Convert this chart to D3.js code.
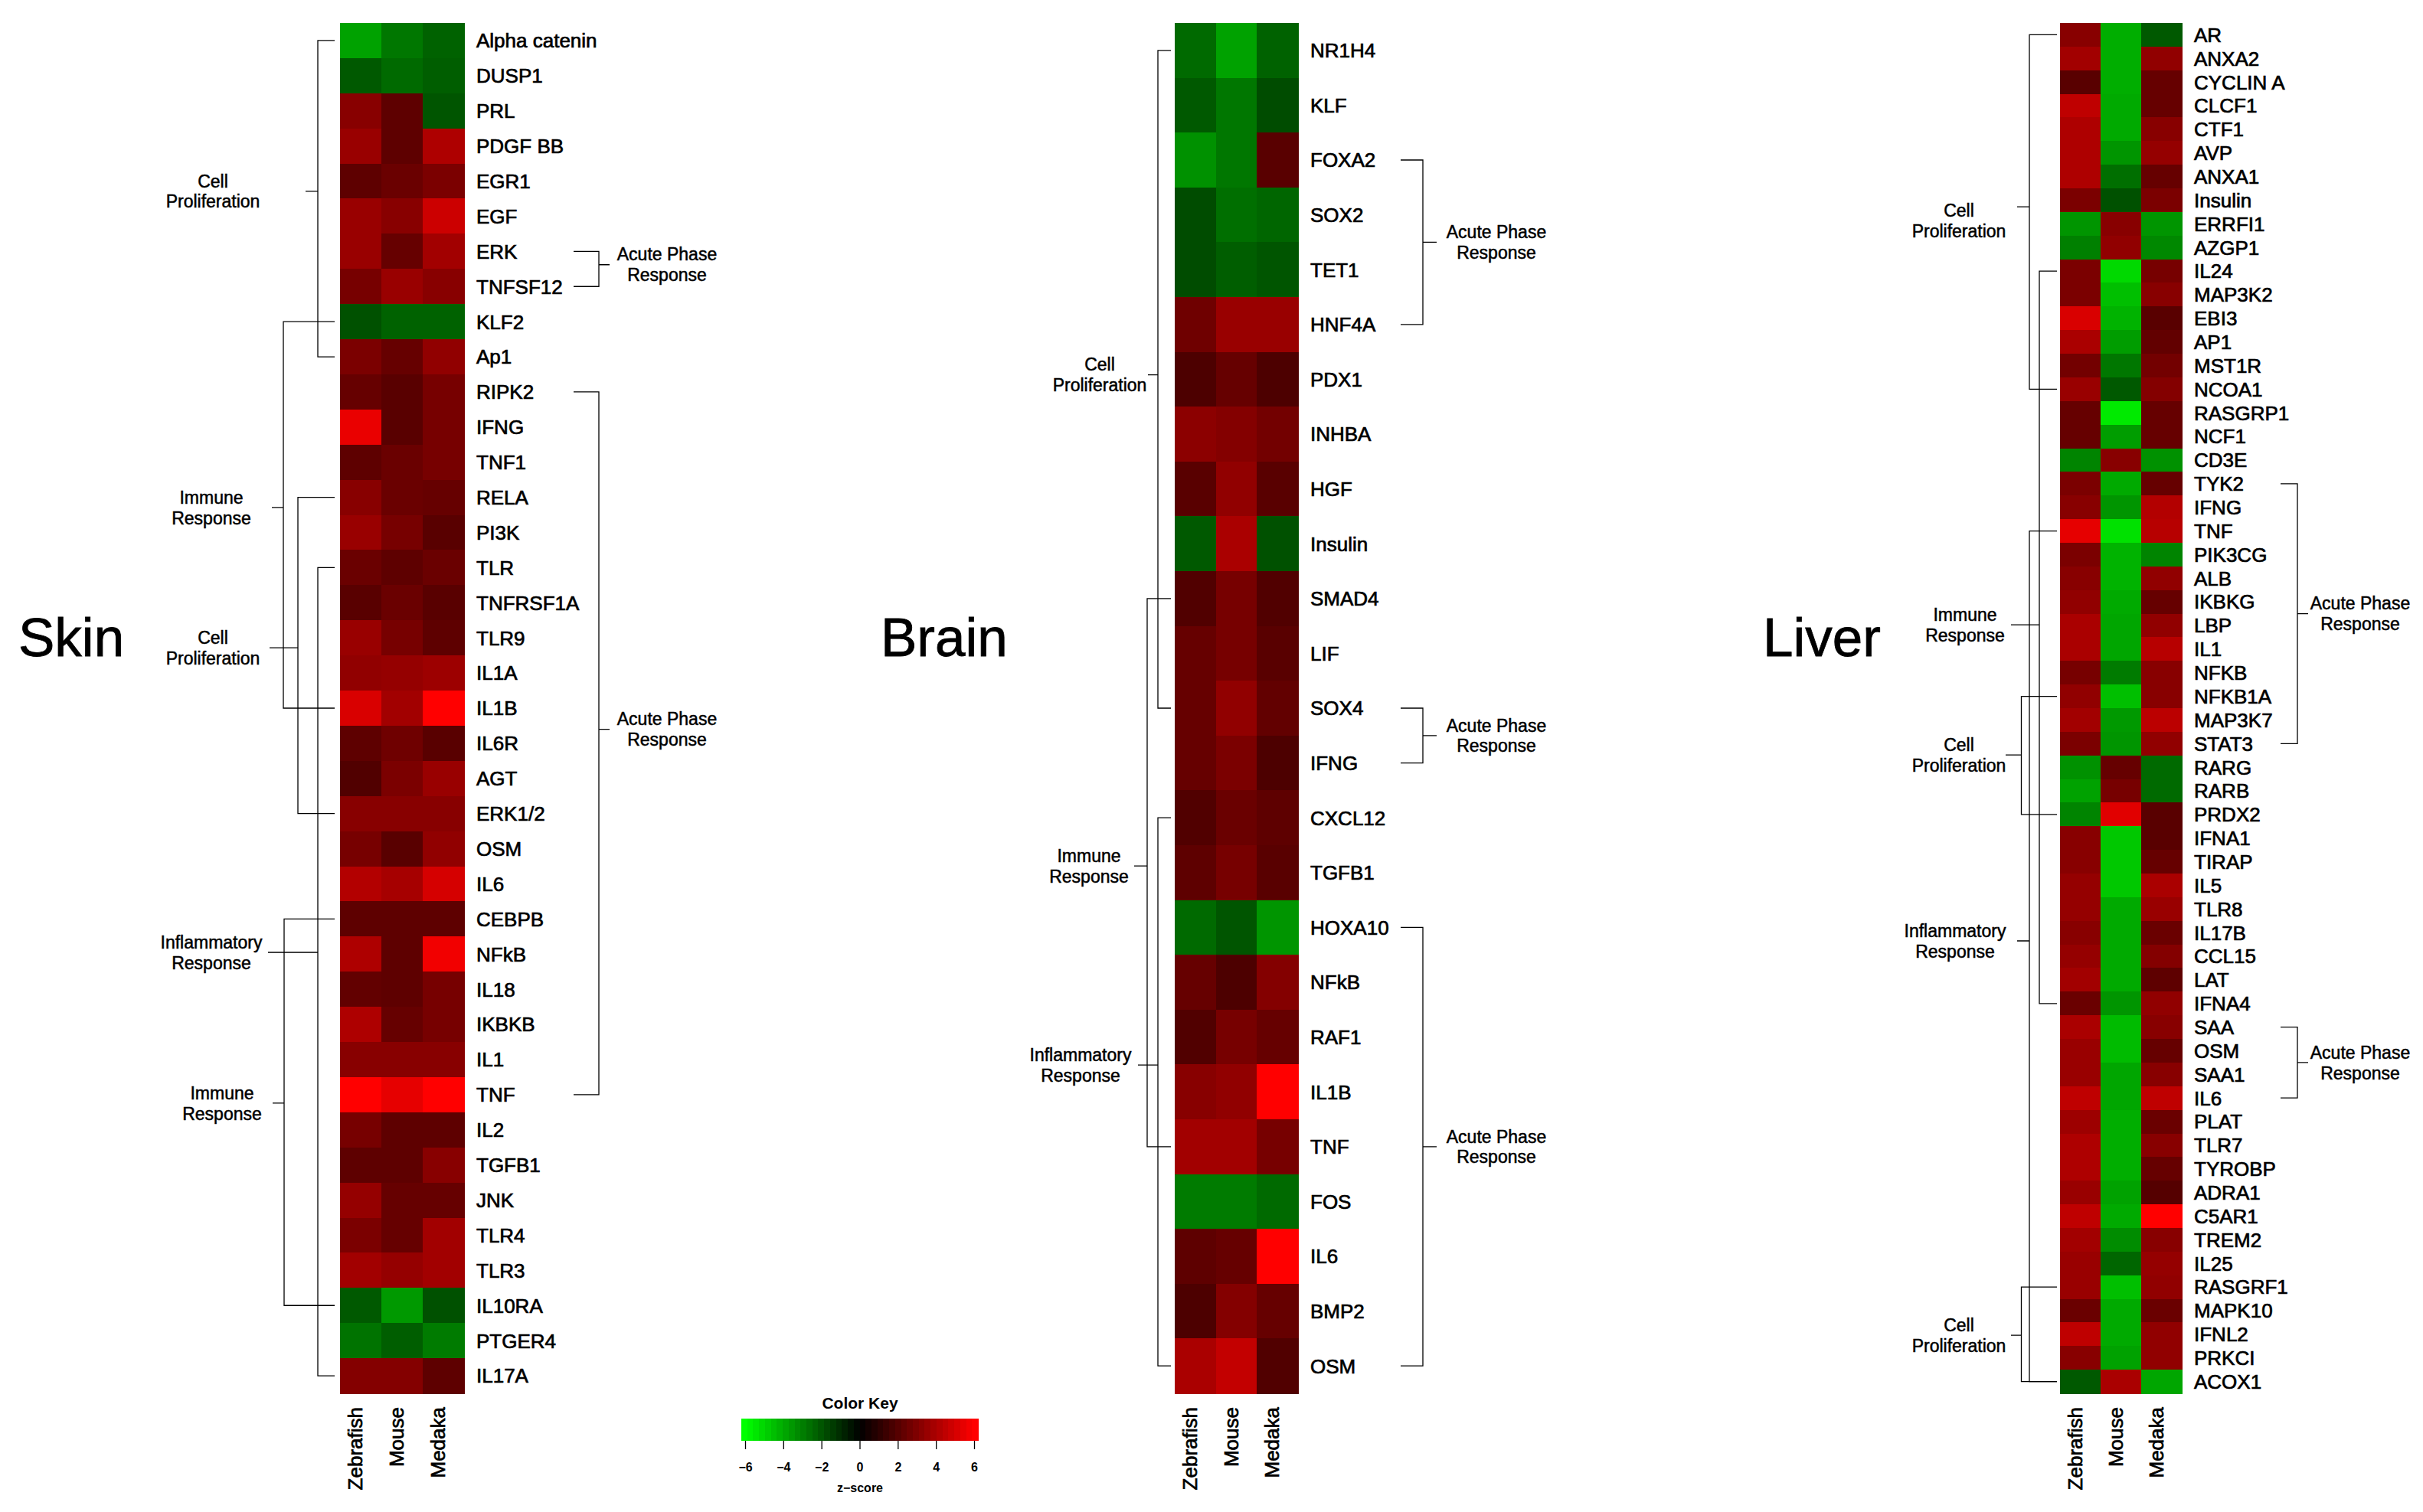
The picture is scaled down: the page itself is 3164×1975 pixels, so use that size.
<!DOCTYPE html>
<html>
<head>
<meta charset="utf-8">
<script src="https://cdn.jsdelivr.net/npm/d3@7"></script>
<style>
  body { margin: 0; background: #fff; }
  text { font-family: "Liberation Sans", Arial, Helvetica, sans-serif; fill: #000; }
</style>
</head>
<body>
<script>
//species (columns)
var species = ["Zebrafish", "Mouse", "Medaka"];

//skin genes and z-scores [Zebrafish, Mouse, Medaka]
var skinGenes = ["Alpha catenin", "DUSP1", "PRL", "PDGF BB", "EGR1", "EGF", "ERK", "TNFSF12", "KLF2", "Ap1",
  "RIPK2", "IFNG", "TNF1", "RELA", "PI3K", "TLR", "TNFRSF1A", "TLR9", "IL1A", "IL1B",
  "IL6R", "AGT", "ERK1/2", "OSM", "IL6", "CEBPB", "NFkB", "IL18", "IKBKB", "IL1",
  "TNF", "IL2", "TGFB1", "JNK", "TLR4", "TLR3", "IL10RA", "PTGER4", "IL17A"];
var skinValues = [
  [-3.8, -2.8, -2.3], [-2.1, -2.5, -2.2], [3.2, 2.2, -2.0], [3.6, 2.2, 4.1], [2.2, 2.5, 2.9],
  [3.6, 3.2, 4.8], [3.6, 2.4, 3.8], [2.8, 3.6, 3.2], [-1.9, -2.3, -2.3], [2.9, 2.4, 3.4],
  [2.4, 2.1, 2.8], [5.5, 2.1, 2.8], [2.2, 2.5, 2.8], [3.2, 2.5, 2.4], [3.6, 2.8, 2.1],
  [2.5, 2.2, 2.5], [2.1, 2.5, 2.1], [3.6, 2.8, 2.2], [3.4, 3.5, 3.7], [5.1, 3.8, 6.0],
  [2.2, 2.6, 2.1], [1.9, 2.9, 3.6], [3.2, 3.2, 3.2], [2.8, 2.1, 3.4], [4.2, 3.9, 5.0],
  [2.2, 2.2, 2.2], [4.1, 2.2, 5.7], [2.3, 2.2, 2.8], [4.1, 2.4, 2.8], [3.2, 3.2, 3.2],
  [6.0, 5.4, 6.0], [2.8, 2.2, 2.2], [2.2, 2.2, 3.2], [3.5, 2.4, 2.4], [2.9, 2.4, 3.8],
  [3.8, 3.5, 3.8], [-2.1, -3.6, -1.9], [-2.7, -2.2, -2.9], [3.1, 3.1, 2.2]
];

//brain genes and z-scores
var brainGenes = ["NR1H4", "KLF", "FOXA2", "SOX2", "TET1", "HNF4A", "PDX1", "INHBA", "HGF", "Insulin",
  "SMAD4", "LIF", "SOX4", "IFNG", "CXCL12", "TGFB1", "HOXA10", "NFkB", "RAF1", "IL1B",
  "TNF", "FOS", "IL6", "BMP2", "OSM"];
var brainValues = [
  [-2.5, -3.8, -2.3], [-2.1, -2.8, -1.8], [-3.4, -2.8, 2.1], [-1.8, -2.6, -2.4], [-1.8, -2.2, -2.0],
  [2.6, 3.6, 3.6], [1.8, 2.4, 1.8], [3.3, 3.1, 2.7], [2.1, 3.4, 2.1], [-2.1, 4.0, -1.9],
  [1.9, 2.8, 1.9], [2.4, 2.8, 2.1], [2.4, 3.4, 2.3], [2.4, 2.9, 1.8], [1.9, 2.5, 2.2],
  [2.2, 2.8, 2.1], [-2.5, -2.0, -3.5], [2.4, 1.8, 3.1], [1.9, 2.8, 2.4], [3.2, 3.4, 6.0],
  [3.8, 3.8, 2.8], [-2.9, -2.9, -2.5], [2.2, 2.4, 6.0], [1.8, 3.1, 2.4], [4.0, 4.6, 1.9]
];

//liver genes and z-scores
var liverGenes = ["AR", "ANXA2", "CYCLIN A", "CLCF1", "CTF1", "AVP", "ANXA1", "Insulin", "ERRFI1", "AZGP1",
  "IL24", "MAP3K2", "EBI3", "AP1", "MST1R", "NCOA1", "RASGRP1", "NCF1", "CD3E", "TYK2",
  "IFNG", "TNF", "PIK3CG", "ALB", "IKBKG", "LBP", "IL1", "NFKB", "NFKB1A", "MAP3K7",
  "STAT3", "RARG", "RARB", "PRDX2", "IFNA1", "TIRAP", "IL5", "TLR8", "IL17B", "CCL15",
  "LAT", "IFNA4", "SAA", "OSM", "SAA1", "IL6", "PLAT", "TLR7", "TYROBP", "ADRA1",
  "C5AR1", "TREM2", "IL25", "RASGRF1", "MAPK10", "IFNL2", "PRKCI", "ACOX1"];
var liverValues = [
  [3.2, -4.1, -2.1], [3.8, -4.1, 3.4], [2.1, -4.1, 2.4], [4.5, -4.0, 2.4], [4.1, -4.0, 3.2],
  [4.1, -3.5, 3.5], [4.1, -2.6, 2.4], [2.9, -1.9, 2.9], [-3.5, 3.2, -3.5], [-3.0, 3.4, -3.2],
  [2.9, -5.1, 2.8], [2.9, -4.5, 3.2], [5.1, -4.2, 2.1], [4.0, -3.7, 2.3], [2.7, -2.8, 2.7],
  [3.6, -2.1, 3.1], [2.4, -5.5, 2.4], [2.4, -3.7, 2.4], [-3.1, 3.2, -3.4], [2.9, -4.0, 2.4],
  [3.2, -3.5, 4.2], [5.4, -5.3, 4.3], [2.9, -4.2, -3.1], [3.2, -4.2, 3.4], [3.4, -4.0, 2.4],
  [4.0, -3.9, 3.4], [4.0, -3.9, 4.3], [2.8, -2.9, 3.2], [3.4, -4.5, 3.2], [3.8, -3.6, 4.4],
  [2.9, -3.5, 3.4], [-3.4, 2.4, -2.5], [-3.8, 2.8, -2.5], [-3.1, 5.3, 2.1], [3.2, -4.7, 2.1],
  [3.2, -4.7, 2.4], [3.5, -4.7, 4.0], [3.5, -4.0, 3.6], [3.2, -4.0, 2.5], [3.5, -4.0, 3.1],
  [3.8, -4.0, 2.2], [2.5, -3.5, 3.4], [4.0, -4.4, 3.2], [3.6, -4.4, 2.4], [3.6, -3.9, 3.2],
  [4.5, -3.9, 4.5], [3.7, -4.1, 2.5], [4.1, -4.1, 3.2], [4.1, -4.1, 2.4], [3.6, -3.8, 2.0],
  [4.5, -4.0, 6.0], [3.8, -3.3, 3.2], [3.6, -2.4, 3.5], [3.6, -4.5, 3.4], [2.5, -4.0, 2.5],
  [4.5, -4.0, 3.4], [3.2, -3.8, 3.4], [-2.1, 4.0, -3.9]
];

//left side groups (from gene, to gene, branch point in row units)
var skinGroups = [
  {label: "Cell Proliferation", from: "Alpha catenin", to: "Ap1", at: 4.29},
  {label: "Immune Response", from: "KLF2", to: "IL1B", at: 13.29},
  {label: "Cell Proliferation", from: "RELA", to: "ERK1/2", at: 17.28},
  {label: "Inflammatory Response", from: "TLR", to: "IL17A", at: 25.95},
  {label: "Immune Response", from: "CEBPB", to: "IL10RA", at: 30.24}
];
var brainGroups = [
  {label: "Cell Proliferation", from: "NR1H4", to: "SOX4", at: 5.92},
  {label: "Immune Response", from: "SMAD4", to: "TNF", at: 14.88},
  {label: "Inflammatory Response", from: "CXCL12", to: "OSM", at: 18.51}
];
var liverGroups = [
  {label: "Cell Proliferation", from: "AR", to: "NCOA1", at: 7.28},
  {label: "Immune Response", from: "IL24", to: "IFNA4", at: 24.97},
  {label: "Inflammatory Response", from: "TNF", to: "ACOX1", at: 38.35},
  {label: "Cell Proliferation", from: "NFKB1A", to: "PRDX2", at: 30.48},
  {label: "Cell Proliferation", from: "RASGRF1", to: "ACOX1", at: 55.04}
];

//right side acute phase response groups
var skinAcute = [["ERK", "TNFSF12", 6.38], ["RIPK2", "TNF", 19.6]];
var brainAcute = [["FOXA2", "HNF4A", 3.5], ["SOX4", "IFNG", 12.5], ["HOXA10", "OSM", 20]];
var liverAcute = [["TYK2", "STAT3", 24.5], ["SAA", "IL6", 43.5]];

//colour key ticks
var keyTicks = [-6, -4, -2, 0, 2, 4, 6];

window.onload = function(){

    var w = 3164, h = 1975;
    var top = 30, bottom = 1820;

    var svg = d3.select("body")
        .append("svg")
        .attr("width", w)
        .attr("height", h)
        .style("background-color", "#fff");

    //green - black - red colour scale
    var color = d3.scaleLinear()
        .domain([-6, 0, 6])
        .range(["#00ff00", "#000000", "#ff0000"])
        .clamp(true);

    //layout for each panel
    var panels = [
        {title: "Skin", genes: skinGenes, values: skinValues, groups: skinGroups, acute: skinAcute,
         x0: 444, x1: 606, titleX: 24, gap: 7,
         gx: [415, 370, 389, 415, 371], tip: [399, 355, 352, 350, 356], lx: [278, 276, 278, 276, 290], ldy: [0, 0, 0, 0, 0],
         r: {start: 749, vx: 782, end: 796, lx: 871}},
        {title: "Brain", genes: brainGenes, values: brainValues, groups: brainGroups, acute: brainAcute,
         x0: 1534, x1: 1695, titleX: 1150, gap: 5,
         gx: [1512, 1498, 1512], tip: [1499, 1481, 1486], lx: [1436, 1422, 1411], ldy: [0, 0, 0],
         r: {start: 1829, vx: 1858, end: 1876, lx: 1954}},
        {title: "Liver", genes: liverGenes, values: liverValues, groups: liverGroups, acute: liverAcute,
         x0: 2690, x1: 2849, titleX: 2302, gap: 4,
         gx: [2650, 2663, 2650, 2639.5, 2639.5], tip: [2634, 2626, 2634, 2619, 2626], lx: [2558, 2566, 2553, 2558, 2558], ldy: [18, 0, 0, 0, 0],
         r: {start: 2978, vx: 3000, end: 3014, lx: 3082}}
    ];

    panels.forEach(function(p){

        var g = svg.append("g").attr("class", "panel");

        var x = d3.scaleBand()
            .domain(species)
            .range([p.x0, p.x1]);

        var y = d3.scaleBand()
            .domain(p.genes)
            .range([top, bottom]);

        //row centre from fractional row index
        var yAt = function(i){
            return top + y.step() * (i + 0.5);
        };
        var yMid = function(gene){
            return y(gene) + y.bandwidth() / 2;
        };

        //flatten cells
        var cells = [];
        p.genes.forEach(function(gene, i){
            species.forEach(function(s, j){
                cells.push({gene: gene, species: s, value: p.values[i][j]});
            });
        });

        g.selectAll(".cell")
            .data(cells)
            .enter()
            .append("rect")
            .attr("class", "cell")
            .attr("x", function(d){ return x(d.species); })
            .attr("y", function(d){ return y(d.gene); })
            .attr("width", x.bandwidth() + 0.5)
            .attr("height", y.bandwidth() + 0.5)
            .attr("shape-rendering", "crispEdges")
            .style("fill", function(d){ return color(d.value); });

        //gene labels on the right
        var rowAxis = g.append("g")
            .attr("transform", "translate(" + p.x1 + ",0)")
            .call(d3.axisRight(y).tickSize(0).tickPadding(16));
        rowAxis.select(".domain").remove();
        rowAxis.selectAll("text")
            .attr("font-size", 26)
            .attr("font-family", "Liberation Sans, Arial, sans-serif")
            .attr("stroke", "#000")
            .attr("stroke-width", 0.7)
            .attr("dy", "0.36em");

        //species labels below, rotated
        var colAxis = g.append("g")
            .attr("transform", "translate(0," + bottom + ")")
            .call(d3.axisBottom(x).tickSize(0));
        colAxis.select(".domain").remove();
        colAxis.selectAll("text")
            .attr("font-size", 26)
            .attr("font-family", "Liberation Sans, Arial, sans-serif")
            .attr("stroke", "#000")
            .attr("stroke-width", 0.7)
            .attr("transform", "rotate(-90)")
            .attr("text-anchor", "end")
            .attr("x", -18)
            .attr("y", 2)
            .attr("dy", 0);

        //panel title
        g.append("text")
            .attr("x", p.titleX)
            .attr("y", 857)
            .attr("font-size", 71)
            .attr("stroke", "#000")
            .attr("stroke-width", 0.8)
            .text(p.title);

        //left brackets
        p.groups.forEach(function(grp, k){
            var y1 = yMid(grp.from), y2 = yMid(grp.to), ys = yAt(grp.at);
            var gx = p.gx[k];
            var path = "M" + (p.x0 - p.gap) + "," + y1 + "H" + gx + "V" + y2 + "H" + (p.x0 - p.gap) +
                "M" + gx + "," + ys + "H" + p.tip[k];
            g.append("path")
                .attr("d", path)
                .attr("fill", "none")
                .attr("stroke", "#000")
                .attr("stroke-width", 1.3);
            var words = grp.label.split(" ");
            var t = g.append("text")
                .attr("text-anchor", "middle")
                .attr("font-size", 23)
                .attr("stroke", "#000")
                .attr("stroke-width", 0.5)
                .attr("y", ys + p.ldy[k]);
            t.append("tspan")
                .attr("x", p.lx[k])
                .attr("dy", "-0.23em")
                .text(words[0]);
            t.append("tspan")
                .attr("x", p.lx[k])
                .attr("dy", "1.17em")
                .text(words[1]);
        });

        //right brackets: acute phase response
        p.acute.forEach(function(a){
            var y1 = yMid(a[0]), y2 = yMid(a[1]), ys = yAt(a[2]);
            var path = "M" + p.r.start + "," + y1 + "H" + p.r.vx + "V" + y2 + "H" + p.r.start +
                "M" + p.r.vx + "," + ys + "H" + p.r.end;
            g.append("path")
                .attr("d", path)
                .attr("fill", "none")
                .attr("stroke", "#000")
                .attr("stroke-width", 1.3);
            var t = g.append("text")
                .attr("text-anchor", "middle")
                .attr("font-size", 23)
                .attr("stroke", "#000")
                .attr("stroke-width", 0.5)
                .attr("y", ys);
            t.append("tspan")
                .attr("x", p.r.lx)
                .attr("dy", "-0.23em")
                .text("Acute Phase");
            t.append("tspan")
                .attr("x", p.r.lx)
                .attr("dy", "1.17em")
                .text("Response");
        });
    });

    //colour key
    var kx = d3.scaleLinear()
        .domain([-6, 6])
        .range([973, 1272]);

    var bandW = 0.31;
    var bands = d3.range(-6.2, 6.2 - 0.001, bandW);

    var key = svg.append("g").attr("class", "key");

    key.selectAll(".band")
        .data(bands)
        .enter()
        .append("rect")
        .attr("class", "band")
        .attr("x", function(d){ return kx(d); })
        .attr("y", 1853)
        .attr("width", kx(bandW) - kx(0) + 0.6)
        .attr("height", 29)
        .attr("shape-rendering", "crispEdges")
        .style("fill", function(d){ return color(d + bandW / 2); });

    var keyAxis = key.append("g")
        .attr("transform", "translate(0,1882)")
        .call(d3.axisBottom(kx).tickValues(keyTicks).tickSize(11).tickPadding(18)
            .tickFormat(function(d){ return d < 0 ? "\u2212" + Math.abs(d) : d; }));
    keyAxis.select(".domain").remove();
    keyAxis.selectAll("line").attr("stroke", "#000").attr("stroke-width", 1.3);
    keyAxis.selectAll("text")
        .attr("font-size", 16)
        .attr("font-weight", "bold")
        .attr("font-family", "Liberation Sans, Arial, sans-serif");

    key.append("text")
        .attr("x", 1123)
        .attr("y", 1840)
        .attr("text-anchor", "middle")
        .attr("font-size", 21)
        .attr("font-weight", "bold")
        .text("Color Key");

    key.append("text")
        .attr("x", 1123)
        .attr("y", 1949)
        .attr("text-anchor", "middle")
        .attr("font-size", 16)
        .attr("font-weight", "bold")
        .text("z\u2212score");
};
</script>
</body>
</html>
